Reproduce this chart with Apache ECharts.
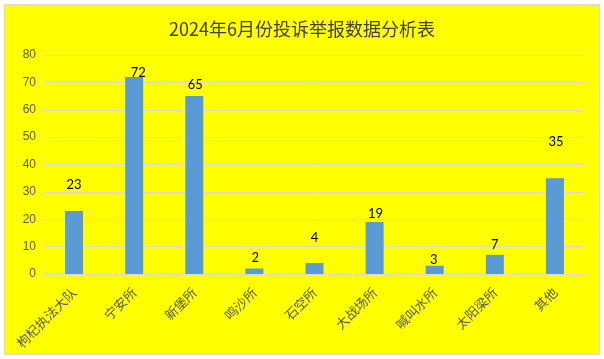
<!DOCTYPE html>
<html>
<head>
<meta charset="utf-8">
<script src="https://cdn.jsdelivr.net/npm/echarts@6/dist/echarts.min.js"></script>
<style>
html,body{margin:0;padding:0;background:#fff;}
#c{width:604px;height:359px;}
</style>
</head>
<body>
<div id="c"></div>
<script>
const titleText = '2024年6月份投诉举报数据分析表';
const categories = ['枸杞执法大队', '宁安所', '新堡所', '鸣沙所', '石空所', '大战场所', '喊叫水所', '太阳梁所', '其他'];
const values = [23, 72, 65, 2, 4, 19, 3, 7, 35];
const yTicks = [0, 10, 20, 30, 40, 50, 60, 70, 80];

// label placement tweaks (styling only) to mimic the reference's label positions
const labelShift = [[0, -15], [4, 7], [1, 0], [1, 1], [0, -14], [1, 3], [-1, 6], [0, 1], [1, -25]];

const chart = echarts.init(document.getElementById('c'), null, {renderer: 'canvas'});
const option = {
  backgroundColor: '#ffffff',
  animation: false,
  graphic: [{
    type: 'rect',
    z: -10,
    shape: {x: 4.5, y: 4.5, width: 595, height: 350},
    style: {fill: '#ffff00', stroke: '#d9d9d9', lineWidth: 1}
  }],
  title: {
    text: titleText,
    left: 'center',
    top: 15,
    textStyle: {fontFamily: 'Noto Sans CJK SC', fontSize: 18, fontWeight: 'normal', color: '#404040'}
  },
  grid: {left: 44, right: 19, top: 55, bottom: 85, containLabel: false},
  xAxis: {
    type: 'category',
    data: categories,
    axisLine: {show: true, lineStyle: {color: '#d9d9d9', width: 1}},
    axisTick: {show: false},
    axisLabel: {
      interval: 0,
      rotate: 45,
      margin: 16,
      color: '#595959',
      fontSize: 13,
      fontFamily: 'Noto Sans CJK SC'
    }
  },
  yAxis: {
    type: 'value',
    min: yTicks[0],
    max: yTicks[yTicks.length - 1],
    interval: yTicks[1] - yTicks[0],
    axisLine: {show: false},
    axisTick: {show: false},
    splitLine: {lineStyle: {color: '#d9d9d9', width: 1}},
    axisLabel: {color: '#595959', fontSize: 12, fontFamily: 'Liberation Sans', margin: 8}
  },
  series: [{
    type: 'bar',
    barWidth: 18,
    data: values.map((v, i) => ({
      value: v,
      label: {offset: labelShift[i]}
    })),
    itemStyle: {color: '#5b9bd5'},
    label: {
      show: true,
      position: 'top',
      distance: 5,
      color: '#000000',
      fontSize: 13,
      fontFamily: 'Lato'
    }
  }]
};
chart.setOption(option);
</script>
</body>
</html>
